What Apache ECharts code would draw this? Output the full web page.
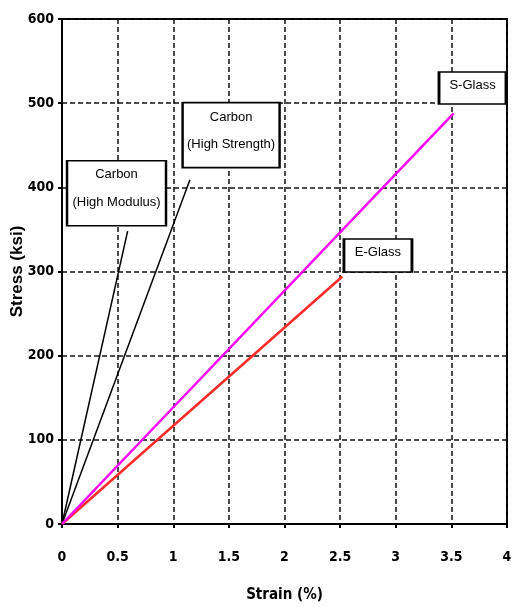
<!DOCTYPE html>
<html>
<head>
<meta charset="utf-8">
<script src="https://cdn.jsdelivr.net/npm/echarts@6/dist/echarts.min.js"></script>
<style>html,body{margin:0;padding:0;background:#fff;}#c{width:513px;height:607px;}</style>
</head>
<body>
<div id="c"></div>
<script>
// ---- data ----
const seriesNames = ['Carbon HM', 'Carbon HS', 'E-Glass', 'S-Glass'];
const carbonHM = [[0, 0], [0.59, 348]];
const carbonHS = [[0, 0], [1.15, 409]];
const eGlass = [[0, 0], [2.52, 294]];
const sGlass = [[0, 0], [3.52, 488]];
const labelTexts = ['Carbon\n(High Modulus)', 'Carbon\n(High Strength)', 'E-Glass', 'S-Glass'];
// annotation anchors in data units (strain %, ksi)
const labelAnchors = [[0.49, 393], [1.52, 462], [2.84, 319], [3.69, 518]];
const xTicks = { min: 0, max: 4, interval: 0.5 };
const yTicks = { min: 0, max: 600, interval: 100 };

// ---- styles ----
const FONT = "'Liberation Sans Narrow', 'DejaVu Sans Condensed', 'Liberation Sans', Arial, sans-serif";
const BOXFONT = "'Liberation Sans Narrow', 'Liberation Sans', Arial, sans-serif";
const boxStyles = [
  { size: [99, 65], offset: [0, -4.5], lh: 28 },
  { size: [97, 65], offset: [0, -4], lh: 27 },
  { size: [68, 33], offset: [0, -3], lh: 20 },
  { size: [67, 32], offset: [0, -3], lh: 20 }
];
const lineColors = ['#000000', '#000000', '#ff2a2a', '#ff00ff'];
const lineWidths = [1.5, 1.5, 2.5, 2.5];
const dataSets = [carbonHM, carbonHS, eGlass, sGlass];

function mkSeries(i) {
  return {
    name: seriesNames[i],
    type: 'line',
    data: dataSets[i],
    showSymbol: false,
    symbol: 'none',
    lineStyle: { color: lineColors[i], width: lineWidths[i] },
    z: 3,
    markPoint: {
      silent: true,
      animation: false,
      symbol: 'rect',
      symbolSize: boxStyles[i].size,
      itemStyle: { color: '#ffffff', borderColor: '#000000', borderWidth: 2 },
      label: {
        show: true,
        position: 'inside',
        offset: boxStyles[i].offset,
        formatter: labelTexts[i],
        color: '#000',
        fontFamily: BOXFONT,
        fontSize: 13,
        lineHeight: boxStyles[i].lh,
        align: 'center'
      },
      data: [{ coord: labelAnchors[i] }]
    }
  };
}

const chart = echarts.init(document.getElementById('c'), null, { renderer: 'canvas' });
chart.setOption({
  animation: false,
  backgroundColor: '#ffffff',
  grid: { left: 62, right: 6, top: 19, bottom: 83, containLabel: false, outerBoundsMode: 'none', show: true, borderColor: '#000', borderWidth: 2, backgroundColor: 'transparent' },
  xAxis: {
    type: 'value',
    min: xTicks.min, max: xTicks.max, interval: xTicks.interval,
    name: 'Strain (%)',
    nameLocation: 'middle',
    nameGap: 64,
    nameTextStyle: { color: '#000', fontFamily: FONT, fontWeight: 'bold', fontSize: 15 },
    axisLine: { show: true, lineStyle: { color: '#000', width: 2 } },
    axisTick: { show: true, length: 4, lineStyle: { color: '#000', width: 2 } },
    axisLabel: { color: '#000', fontFamily: FONT, fontWeight: 'bold', fontSize: 14, margin: 26 },
    splitLine: { show: true, lineStyle: { color: '#111', width: 1.5, type: [5, 3] } }
  },
  yAxis: {
    type: 'value',
    min: yTicks.min, max: yTicks.max, interval: yTicks.interval,
    name: 'Stress (ksi)',
    nameLocation: 'middle',
    nameGap: 36,
    nameMoveOverlap: false,
    nameTextStyle: { color: '#000', fontFamily: "'Liberation Sans', Arial, sans-serif", fontWeight: 'bold', fontSize: 17 },
    axisLine: { show: true, lineStyle: { color: '#000', width: 2 } },
    axisTick: { show: true, length: 4, lineStyle: { color: '#000', width: 2 } },
    axisLabel: { color: '#000', fontFamily: FONT, fontWeight: 'bold', fontSize: 14, margin: 8 },
    splitLine: { show: true, lineStyle: { color: '#111', width: 1.5, type: [5, 3] } }
  },
  series: [0, 1, 2, 3].map(mkSeries)
});
</script>
</body>
</html>
